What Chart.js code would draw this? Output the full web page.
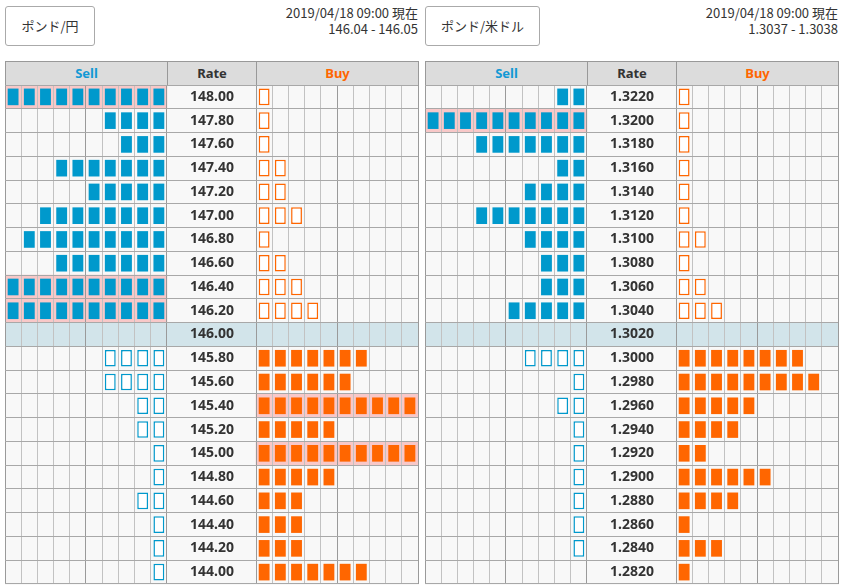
<!DOCTYPE html>
<html>
<head>
<meta charset="utf-8">
<script src="https://cdn.jsdelivr.net/npm/chart.js@4.4.1/dist/chart.umd.min.js"></script>
<style>
body { margin: 0; width: 844px; height: 588px; background: #fff; position: relative; overflow: hidden;
  font-family: 'Noto Sans CJK JP', 'Noto Sans', sans-serif; color: #333; }
.btn { position: absolute; top: 6px; height: 40px; box-sizing: border-box; border: 1px solid #aaa; border-radius: 3px;
  background: #fff; font-size: 13px; line-height: 38px; text-align: center; }
.stamp { position: absolute; top: 5px; width: 220px; text-align: right; font-size: 13px; line-height: 16px; }
.head { position: absolute; top: 61px; height: 25px; box-sizing: border-box; border: 1px solid #999; background: #dcdcdc;
  font: bold 13px 'Noto Sans', sans-serif; line-height: 23px; text-align: center; }
canvas { position: absolute; top: 85px; background: #f8f8f8; }
</style>
</head>
<body>
<div class="btn" id="jpy_pair" style="left:5px;width:90px"></div>
<div class="stamp" id="jpy_stamp" style="left:198px"></div>
<div class="head" style="left:5px;width:163px;color:#1299d4">Sell</div>
<div class="head" style="left:167px;width:90px">Rate</div>
<div class="head" style="left:256px;width:163px;color:#ff6600">Buy</div>
<canvas id="jpy_book" width="414" height="500" style="left:5px"></canvas>

<div class="btn" id="usd_pair" style="left:425px;width:115px"></div>
<div class="stamp" id="usd_stamp" style="left:618px"></div>
<div class="head" style="left:425px;width:163px;color:#1299d4">Sell</div>
<div class="head" style="left:587px;width:90px">Rate</div>
<div class="head" style="left:676px;width:163px;color:#ff6600">Buy</div>
<canvas id="usd_book" width="414" height="500" style="left:425px"></canvas>

<script>
const stamp = '2019/04/18 09:00 現在'

// ポンド/円
const jpyPair = 'ポンド/円'
const jpyQuote = '146.04 - 146.05'
const jpyNow = '146.00'
const jpyRates = ['148.00', '147.80', '147.60', '147.40', '147.20', '147.00', '146.80', '146.60', '146.40', '146.20', '146.00',
	'145.80', '145.60', '145.40', '145.20', '145.00', '144.80', '144.60', '144.40', '144.20', '144.00']
const jpySell = [10, 4, 3, 7, 5, 8, 9, 7, 10, 10, 0, 4, 4, 2, 2, 1, 1, 2, 1, 1, 1]
const jpyBuy = [1, 1, 1, 2, 2, 3, 1, 2, 3, 4, 0, 7, 6, 10, 5, 10, 5, 3, 3, 3, 7]

// ポンド/米ドル
const usdPair = 'ポンド/米ドル'
const usdQuote = '1.3037 - 1.3038'
const usdNow = '1.3020'
const usdRates = ['1.3220', '1.3200', '1.3180', '1.3160', '1.3140', '1.3120', '1.3100', '1.3080', '1.3060', '1.3040', '1.3020',
	'1.3000', '1.2980', '1.2960', '1.2940', '1.2920', '1.2900', '1.2880', '1.2860', '1.2840', '1.2820']
const usdSell = [2, 10, 7, 2, 4, 7, 4, 3, 3, 5, 0, 4, 1, 2, 1, 1, 1, 1, 1, 1, 0]
const usdBuy = [1, 1, 1, 1, 1, 1, 2, 1, 2, 3, 0, 8, 9, 5, 4, 2, 6, 4, 1, 3, 1]

const BLUE = '#0099cc'
const ORANGE = '#ff6600'
const CELLS = 10
const RATE_W = 5.5
const BUY_0 = CELLS + RATE_W
const TOTAL = BUY_0 + CELLS
const PAD = 0.165

const lines = []
for (let i = 0; i <= CELLS; i++) lines.push(i)
for (let i = 0; i <= CELLS; i++) lines.push(BUY_0 + i)
const major = [0, 5, CELLS, BUY_0, BUY_0 + 5, TOTAL]

const labelFont = { family: 'Noto Sans', weight: 'bold', size: 14 }

const labelPadding = (text) => {
	const ctx = document.createElement('canvas').getContext('2d')
	ctx.font = 'bold 14px "Noto Sans"'
	const w = ctx.measureText(text).width
	return 207 - w / 2
}

const noPad = (s) => {
	s.paddingTop = 0
	s.paddingBottom = 0
	s.paddingLeft = 0
	s.paddingRight = 0
}

const orderBook = (id, rates, sell, buy, now) => {
	const nowIdx = rates.indexOf(now)
	const common = { grouped: false, categoryPercentage: 1, borderSkipped: false }
	// sell orders above the current rate are filled, buy orders below it
	const sellFilled = i => i < nowIdx
	const buyFilled = i => i > nowIdx

	const datasets = [
		Object.assign({
			data: rates.map((r, i) => i === nowIdx ? [0, TOTAL] : null),
			backgroundColor: '#d2e4ea', barPercentage: 1, order: 3
		}, common),
		Object.assign({
			data: sell.map(n => n >= CELLS ? [0, CELLS] : null),
			backgroundColor: '#f8c8c8', barPercentage: 1, order: 2
		}, common),
		Object.assign({
			data: buy.map(n => n >= CELLS ? [BUY_0, TOTAL] : null),
			backgroundColor: '#f8c8c8', barPercentage: 1, order: 2
		}, common)
	]

	for (let k = 0; k < CELLS; k++) {
		datasets.push(Object.assign({
			data: sell.map(n => n > k ? [CELLS - k - 1 + PAD, CELLS - k - PAD] : null),
			backgroundColor: ctx => sellFilled(ctx.dataIndex) ? BLUE : '#fff',
			borderColor: BLUE,
			borderWidth: ctx => sellFilled(ctx.dataIndex) ? 0 : 1.5,
			barPercentage: 0.7, order: 1
		}, common))
		datasets.push(Object.assign({
			data: buy.map(n => n > k ? [BUY_0 + k + PAD, BUY_0 + k + 1 - PAD] : null),
			backgroundColor: ctx => buyFilled(ctx.dataIndex) ? ORANGE : '#fff',
			borderColor: ORANGE,
			borderWidth: ctx => buyFilled(ctx.dataIndex) ? 0 : 1.5,
			barPercentage: 0.7, order: 1
		}, common))
	}

	const book = document.getElementById(id).getContext('2d')

	const chart = new Chart(book, {
		type: 'bar',
		data: { labels: rates, datasets: datasets },
		options: {
			indexAxis: 'y',
			responsive: false,
			animation: false,
			layout: { padding: { right: 1, bottom: 1 } },
			plugins: { legend: { display: false }, tooltip: { enabled: false } },
			scales: {
				x: {
					type: 'linear', min: 0, max: TOTAL,
					afterBuildTicks: s => { s.ticks = lines.map(v => ({ value: v })) },
					afterFit: s => { s.height = 0; noPad(s) },
					ticks: { display: false },
					border: { display: false },
					grid: { z: 1, drawTicks: false, color: ctx => major.includes(ctx.tick.value) ? '#9a9a9a' : '#c2c2c2' }
				},
				y: {
					afterFit: s => { s.width = 0; noPad(s) },
					border: { display: false },
					grid: { z: 1, offset: true, drawTicks: false, color: '#a8a8a8' },
					ticks: { z: 2, mirror: true, autoSkip: false, padding: labelPadding(rates[0]), color: '#333', font: labelFont }
				}
			}
		}
	})
}

document.getElementById('jpy_pair').textContent = jpyPair
document.getElementById('jpy_stamp').innerHTML = stamp + '<br>' + jpyQuote
document.getElementById('usd_pair').textContent = usdPair
document.getElementById('usd_stamp').innerHTML = stamp + '<br>' + usdQuote

orderBook('jpy_book', jpyRates, jpySell, jpyBuy, jpyNow)
orderBook('usd_book', usdRates, usdSell, usdBuy, usdNow)
</script>
</body>
</html>
